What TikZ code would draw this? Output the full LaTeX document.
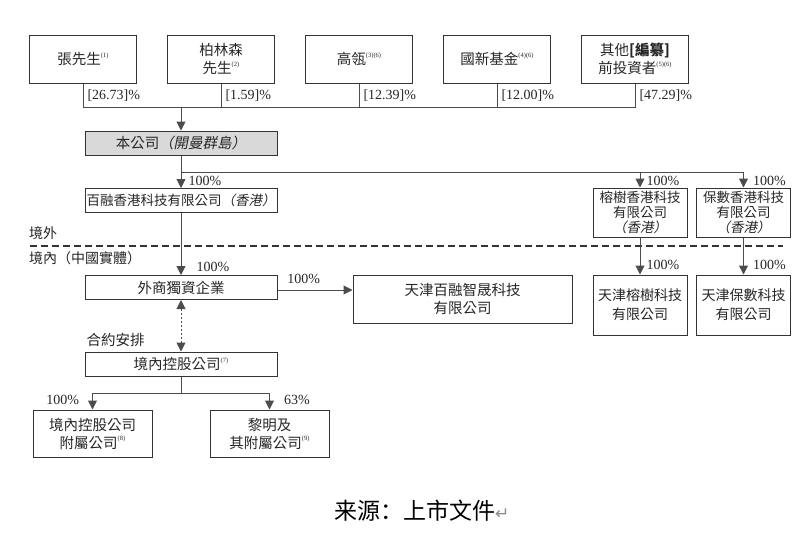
\documentclass[tikz,border=0pt]{standalone}
\usepackage{fontspec}
\setmainfont{Liberation Serif}
\newfontfamily\cjk{Noto Sans CJK TC}
\newfontfamily\cjkit[FakeSlant=0.2]{Noto Sans CJK TC}
\newfontfamily\cjksc{Noto Sans CJK SC}
\newfontfamily\symfont{DejaVu Sans}
\usepackage{xcolor}
\usepackage{tikz}
\usetikzlibrary{arrows.meta, positioning, calc}
\newcommand{\supnote}[1]{\raisebox{0.5em}{\rmfamily\fontsize{6.5}{6.5}\selectfont #1}}

\begin{document}
\begin{tikzpicture}[
  x=1pt, y=-1pt,
  font=\cjk\fontsize{14.5}{18}\selectfont,
  ownerbox/.style={
    rectangle, draw=black!80, line width=1pt, text=black!85,
    text centered, align=center, minimum height=48pt, minimum width=107pt,
    inner sep=1pt
  },
  entitybox/.style={
    rectangle, draw=black!80, line width=1pt, text=black!85,
    text centered, align=center, minimum height=24pt, minimum width=192pt,
    inner sep=1pt
  },
  hkbox/.style={
    ownerbox, minimum width=94pt, minimum height=49pt,
    font=\cjk\fontsize{13.5}{15}\selectfont
  },
  subbox/.style={ownerbox, minimum width=119pt, minimum height=47pt},
  pct/.style={font=\rmfamily\fontsize{14}{14}\selectfont, text=black!85, inner sep=1pt},
  line/.style={draw=black!70, line width=1pt},
  arrow/.style={line, -{Triangle[length=9pt, width=9pt]}},
  dotlink/.style={line, dash pattern=on 2pt off 2pt,
    {Triangle[length=9pt, width=9pt]}-{Triangle[length=9pt, width=9pt]}},
  border/.style={draw=black!80, line width=1.2pt, dash pattern=on 7pt off 4pt},
  node distance=30pt
]
\useasboundingbox (0,0) rectangle (807,541);

% shareholders
\node[ownerbox] (zhang) at (83,59) {張先生\supnote{(1)}};
\node[ownerbox, right=of zhang] (bls) {柏林森\\先生\supnote{(2)}};
\node[ownerbox, right=of bls] (gl) {高瓴\supnote{(3)(6)}};
\node[ownerbox, right=of gl] (gx) {國新基金\supnote{(4)(6)}};
\node[ownerbox, right=of gx] (others) {其他{\bfseries[編纂]}\\前投資者\supnote{(5)(6)}};
\coordinate (join) at (181,107);
\draw[line] (zhang.south) |- node[pct, pos=0.25, anchor=west, xshift=3pt] {[26.73]\%} (join);
\draw[line] (bls.south) |- node[pct, pos=0.25, anchor=west, xshift=3pt] {[1.59]\%} (join);
\draw[line] (gl.south) |- node[pct, pos=0.25, anchor=west, xshift=3pt] {[12.39]\%} (join);
\draw[line] (gx.south) |- node[pct, pos=0.25, anchor=west, xshift=3pt] {[12.00]\%} (join);
\draw[line] (others.south) |- node[pct, pos=0.25, anchor=west, xshift=3pt] {[47.29]\%} (join);

% company and offshore subsidiaries
\node[entitybox, fill=black!15] (company) at (181,143) {本公司{\cjkit（開曼群島）}};
\draw[arrow] (join) -- (company);
\node[entitybox, font=\cjk\fontsize{13.5}{18}\selectfont] (brhk) at (181,200.5) {百融香港科技有限公司{\cjkit（香港）}};
\node[hkbox] (rshk) at (640,212.5) {榕樹香港科技\\有限公司\\{\cjkit（香港）}};
\node[hkbox] (bshk) at (743.5,212.5) {保數香港科技\\有限公司\\{\cjkit（香港）}};
\coordinate (split) at (181,172);
\draw[arrow] (company) -- node[pct, pos=0.78, anchor=west, xshift=6pt] {100\%} (brhk);
\draw[arrow] (split) -| node[pct, pos=0.78, anchor=west, xshift=5pt] {100\%} (rshk);
\draw[arrow] (split) -| node[pct, pos=0.78, anchor=west, xshift=8pt] {100\%} (bshk);

% boundary
\node[anchor=west, inner sep=0pt, text=black!85, font=\cjk\fontsize{14}{14}\selectfont] (offshore) at (29,233) {境外};
\draw[border] (30,246) -- (783,246);
\node[anchor=west, inner sep=0pt, text=black!85, font=\cjk\fontsize{14}{14}\selectfont] (onshore) at (29,258) {境內（中國實體）};

% onshore entities
\node[entitybox] (waishang) at (181,287.5) {外商獨資企業};
\node[ownerbox, minimum width=219pt] (tjbr) at (462.5,299) {天津百融智晟科技\\有限公司};
\node[hkbox, minimum height=60pt, font=\cjk\fontsize{14}{19}\selectfont] (tjrs) at (640,305) {天津榕樹科技\\有限公司};
\node[hkbox, minimum height=60pt, font=\cjk\fontsize{14}{19}\selectfont] (tjbs) at (743.5,305) {天津保數科技\\有限公司};
\draw[arrow] (brhk) -- node[pct, pos=0.87, anchor=west, xshift=14pt] {100\%} (waishang);
\draw[arrow] ([yshift=-2.5pt]waishang.east) -- ([yshift=-2.5pt]waishang.east -| tjbr.west)
  node[pct, pos=0.35, above=5pt] {100\%};
\draw[arrow] (rshk) -- node[pct, pos=0.74, anchor=west, xshift=5pt] {100\%} (tjrs);
\draw[arrow] (bshk) -- node[pct, pos=0.74, anchor=west, xshift=8pt] {100\%} (tjbs);

% contractual arrangements
\node[entitybox] (jingnei) at (181,364) {境內控股公司\supnote{(7)}};
\draw[dotlink] (waishang) -- (jingnei);
\node[anchor=south west, inner sep=0pt, text=black!85] (contract) at ([xshift=2pt, yshift=5pt]jingnei.north west) {合約安排};
\node[subbox] (sub1) at (92.5,433.5) {境內控股公司\\附屬公司\supnote{(8)}};
\node[subbox] (sub2) at (269.5,433.5) {黎明及\\其附屬公司\supnote{(9)}};
\coordinate (split2) at (181,393);
\draw[line] (jingnei) -- (split2);
\draw[arrow] (split2) -| node[pct, pos=0.72, anchor=east, xshift=-12pt] {100\%} (sub1);
\draw[arrow] (split2) -| node[pct, pos=0.72, anchor=west, xshift=13pt] {63\%} (sub2);

% source
\node[anchor=west, inner sep=0pt, font=\cjksc\fontsize{23}{23}\selectfont] (source) at (334,511)
  {来源：上市文件{\symfont\color{black!45}\fontsize{17}{17}\selectfont ↵}};
\end{tikzpicture}
\end{document}
